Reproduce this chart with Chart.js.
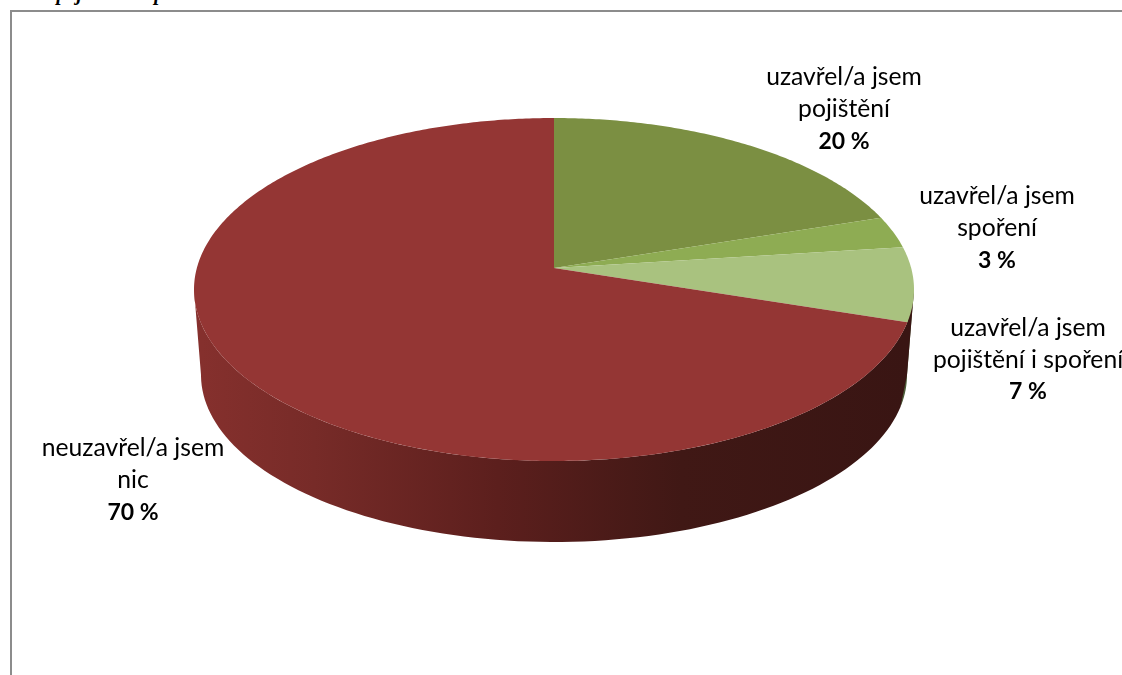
<!DOCTYPE html>
<html lang="cs">
<head>
<meta charset="utf-8">
<title>Pojištění a spoření</title>
<script src="https://cdn.jsdelivr.net/npm/chart.js@4/dist/chart.umd.min.js"></script>
<style>
  html, body { margin: 0; padding: 0; background: #fff; overflow: hidden; }
  #wrap { position: relative; width: 1122px; height: 675px; overflow: hidden; }
  #frame { position: absolute; left: 10px; top: 10px; right: -4px; bottom: -4px; border: 2px solid #8c8c8c; }
  #caption { position: absolute; left: 16px; top: -18px; font: italic bold 20px "Liberation Serif", serif; color: #000; white-space: nowrap; }
  canvas { position: absolute; left: 0; top: 0; }
</style>
</head>
<body>
<div id="wrap">
  <div id="caption">Stav pojištění a spoření</div>
  <div id="frame"></div>
  <canvas id="pie" width="1122" height="675"></canvas>
</div>
<script>
const categories = [
  ['uzavřel/a jsem', 'pojištění'],
  ['uzavřel/a jsem', 'spoření'],
  ['uzavřel/a jsem', 'pojištění i spoření'],
  ['neuzavřel/a jsem', 'nic'],
];
const shares = [20, 3, 7, 70];
const topColors = ['#7b8f42', '#8eac53', '#a9c27f', '#943634'];
const wallColors = ['#55652c', '#5e7436', '#4d5e3a', null];

// centre of each label block
const labelCentres = [[844, 109.5], [997, 228.5], [1028, 360], [133, 480.5]];

// tilted disc: top face and the smaller bottom face seen in perspective
const topFace = { x: 554, y: 289.5, a: 360, b: 171.5 };
const bottomFace = { x: 554, y: 375, a: 353, b: 167 };
const tilt = -0.125; // pushes the apex up from the middle of the ellipse

// angle on the pie -> point on the unit circle after the perspective shift
function project(angle, r) {
  const x = Math.cos(angle) * r;
  const y = Math.sin(angle) * r;
  const d = 1 + tilt * y;
  return { x: x * Math.sqrt(1 - tilt * tilt) / d, y: (y + tilt) / d };
}

function onFace(face, p) {
  return { x: face.x + p.x * face.a, y: face.y + p.y * face.b };
}

function traceTop(ctx, start, end) {
  const steps = Math.max(4, Math.ceil((end - start) * 90));
  for (let i = 0; i <= steps; i++) {
    const p = onFace(topFace, project(start + (end - start) * i / steps, 1));
    ctx.lineTo(p.x, p.y);
  }
}

function drawWalls(ctx, arcs) {
  const grad = ctx.createLinearGradient(201, 0, 907, 0);
  grad.addColorStop(0, '#85302d');
  grad.addColorStop(0.16, '#772b28');
  grad.addColorStop(0.42, '#5c1f1d');
  grad.addColorStop(0.68, '#401815');
  grad.addColorStop(1, '#391513');

  arcs.forEach((arc, i) => {
    const { startAngle, endAngle } = arc.getProps(['startAngle', 'endAngle'], true);
    const pts = [];
    const steps = 160;
    for (let s = 0; s <= steps; s++) {
      const p = project(startAngle + (endAngle - startAngle) * s / steps, 1);
      if (p.y >= 0) pts.push(p);
    }
    if (!pts.length) return;
    // silhouette ends exactly at the widest points of the faces
    if (pts[0].x > 0) pts.unshift({ x: 1, y: 0 });
    if (pts[pts.length - 1].x < 0 && i === arcs.length - 1) pts.push({ x: -1, y: 0 });

    ctx.beginPath();
    pts.forEach((p, k) => {
      const q = onFace(topFace, p);
      if (k === 0) ctx.moveTo(q.x, q.y); else ctx.lineTo(q.x, q.y);
    });
    for (let k = pts.length - 1; k >= 0; k--) {
      const q = onFace(bottomFace, pts[k]);
      ctx.lineTo(q.x, q.y);
    }
    ctx.closePath();
    ctx.fillStyle = wallColors[i] || grad;
    ctx.fill();
  });
}

const tiltedPie = {
  id: 'tiltedPie',
  // the library works out the slice angles, the faces are painted here
  beforeDatasetDraw(chart, args) {
    const ctx = chart.ctx;
    const arcs = chart.getDatasetMeta(args.index).data;
    ctx.save();
    drawWalls(ctx, arcs);
    arcs.forEach((arc, i) => {
      const { startAngle, endAngle } = arc.getProps(['startAngle', 'endAngle'], true);
      const apex = onFace(topFace, project(0, 0));
      ctx.beginPath();
      ctx.moveTo(apex.x, apex.y);
      traceTop(ctx, startAngle, endAngle);
      ctx.closePath();
      ctx.fillStyle = topColors[i];
      ctx.fill();
    });
    ctx.restore();
    return false;
  },
  afterDatasetsDraw(chart) {
    const ctx = chart.ctx;
    ctx.save();
    ctx.fillStyle = '#000';
    ctx.textAlign = 'center';
    ctx.textBaseline = 'middle';
    categories.forEach((lines, i) => {
      const [cx, cy] = labelCentres[i];
      ctx.font = '24.7px Lato, "Noto Sans", sans-serif';
      ctx.fillText(lines[0], cx, cy - 32);
      ctx.fillText(lines[1], cx, cy);
      ctx.font = 'bold 23px Lato, "Noto Sans", sans-serif';
      ctx.fillText(shares[i] + ' %', cx, cy + 32);
    });
    ctx.restore();
  },
};

new Chart(document.getElementById('pie'), {
  type: 'pie',
  data: {
    labels: categories.map((c) => c.join(' ')),
    datasets: [{ data: shares, backgroundColor: topColors, borderWidth: 0 }],
  },
  options: {
    responsive: false,
    animation: false,
    plugins: { legend: { display: false }, tooltip: { enabled: false } },
  },
  plugins: [tiltedPie],
});
</script>
</body>
</html>
